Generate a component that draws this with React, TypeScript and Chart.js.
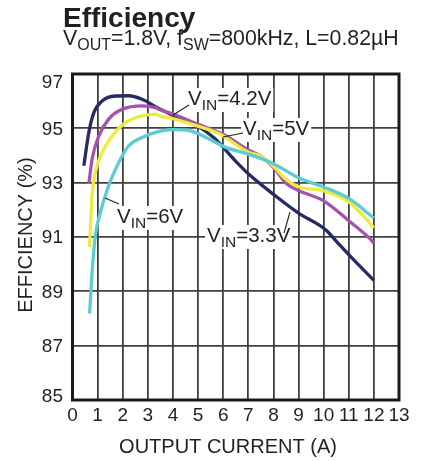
import { useEffect, useRef } from "react";
import { Chart, registerables } from "chart.js";

Chart.register(...registerables);

// ---- data ----
const xTickValues = [0, 1, 2, 3, 4, 5, 6, 7, 8, 9, 10, 11, 12, 13];
const yTickValues = [85, 87, 89, 91, 93, 95, 97];

const vin33X = [0.45, 0.65, 0.85, 1.18, 1.71, 2.24, 2.77, 3.3, 3.9, 4.96, 5.62, 6.55, 7.08, 8, 9, 9.73, 10.1, 10.5, 11, 12];
const vin33Y = [93.62, 94.85, 95.58, 96.01, 96.19, 96.2, 96.07, 95.8, 95.52, 95.09, 94.66, 93.74, 93.26, 92.57, 91.88, 91.49, 91.25, 90.85, 90.35, 89.4];

const vin42X = [0.65, 0.78, 1.05, 1.44, 1.97, 2.77, 3.3, 3.5, 4.03, 4.82, 6, 7, 7.5, 8, 8.54, 9, 10, 11, 11.85, 12];
const vin42Y = [92.95, 93.87, 94.72, 95.34, 95.7, 95.83, 95.76, 95.68, 95.52, 95.21, 94.78, 94.2, 93.98, 93.56, 92.95, 92.71, 92.33, 91.6, 90.93, 90.77];

const vin5X = [0.68, 0.78, 0.91, 1.18, 1.58, 2.11, 2.77, 3.3, 3.5, 4, 4.96, 5.88, 7, 7.47, 8, 8.4, 9, 10, 11, 11.5, 12];
const vin5Y = [90.63, 92.52, 93.38, 94.11, 94.72, 95.21, 95.46, 95.52, 95.45, 95.36, 95.09, 94.78, 94.12, 93.98, 93.6, 93.2, 92.85, 92.7, 92.29, 91.85, 91.34];

const vin6X = [0.68, 0.78, 0.91, 1.11, 1.44, 1.84, 2.24, 2.77, 3.3, 4, 4.6, 5.2, 6.1, 7, 8, 9, 10, 11, 12];
const vin6Y = [88.18, 89.71, 91.05, 91.91, 92.89, 93.74, 94.36, 94.66, 94.85, 94.95, 94.93, 94.72, 94.3, 94.05, 93.7, 93.18, 92.84, 92.42, 91.7];

const seriesNames = ["VIN=3.3V", "VIN=4.2V", "VIN=5V", "VIN=6V"];
const seriesColors = ["#262a66", "#a652ac", "#eeea3e", "#5ecbd4"];

const titleText = "Efficiency";
const xTitle = "OUTPUT CURRENT (A)";
const yTitle = "EFFICIENCY (%)";

const FONT = '"Liberation Sans", Arial, Helvetica, sans-serif';

type Part = [string, boolean];

const subtitleParts: Part[] = [
  ["V", false], ["OUT", true], ["=1.8V, f", false], ["SW", true], ["=800kHz, L=0.82µH", false],
];

const annotations: { parts: Part[]; x: number; y: number; line: number[] }[] = [
  { parts: [["V", false], ["IN", true], ["=4.2V", false]], x: 188, y: 105, line: [173, 115, 189, 105] },
  { parts: [["V", false], ["IN", true], ["=5V", false]], x: 243, y: 135, line: [223, 137, 243, 133] },
  { parts: [["V", false], ["IN", true], ["=6V", false]], x: 117, y: 223, line: [105, 198, 119, 204] },
  { parts: [["V", false], ["IN", true], ["=3.3V", false]], x: 207, y: 242, line: [290, 212, 284, 233] },
];

function partsWidth(ctx: CanvasRenderingContext2D, parts: Part[], main: number, sub: number) {
  let w = 0;
  for (const [t, s] of parts) {
    ctx.font = `${s ? sub : main}px ${FONT}`;
    w += ctx.measureText(t).width;
  }
  return w;
}

function drawParts(ctx: CanvasRenderingContext2D, parts: Part[], x: number, y: number, main: number, sub: number, off: number) {
  ctx.textAlign = "left";
  ctx.textBaseline = "alphabetic";
  for (const [t, s] of parts) {
    ctx.font = `${s ? sub : main}px ${FONT}`;
    ctx.fillText(t, x, s ? y + off : y);
    x += ctx.measureText(t).width;
  }
}

const ANN_MAIN = 20.5;
const ANN_SUB = 15.5;

const decorPlugin = {
  id: "decor",
  beforeDatasetsDraw(chart: any) {
    const { ctx, chartArea } = chart;
    ctx.save();
    ctx.fillStyle = "#ffffff";
    for (const a of annotations) {
      const w = partsWidth(ctx, a.parts, ANN_MAIN, ANN_SUB);
      ctx.fillRect(a.x - 2, a.y - 17, w + 4, 24);
    }
    ctx.strokeStyle = "#1a1a1a";
    ctx.lineWidth = 3;
    ctx.strokeRect(chartArea.left, chartArea.top, chartArea.right - chartArea.left, chartArea.bottom - chartArea.top);
    ctx.restore();
  },
  afterDatasetsDraw(chart: any) {
    const { ctx } = chart;
    ctx.save();
    ctx.strokeStyle = "#222";
    ctx.lineWidth = 1.1;
    for (const a of annotations) {
      ctx.beginPath();
      ctx.moveTo(a.line[0], a.line[1]);
      ctx.lineTo(a.line[2], a.line[3]);
      ctx.stroke();
    }
    ctx.fillStyle = "#231f20";
    for (const a of annotations) {
      drawParts(ctx, a.parts, a.x, a.y, ANN_MAIN, ANN_SUB, 5);
    }
    ctx.restore();
  },
  afterDraw(chart: any) {
    const { ctx, chartArea } = chart;
    const yScale = chart.scales.y;
    ctx.save();
    ctx.fillStyle = "#231f20";
    ctx.font = `bold 28px ${FONT}`;
    ctx.textAlign = "left";
    ctx.textBaseline = "alphabetic";
    ctx.fillText(titleText, 63, 27);
    drawParts(ctx, subtitleParts, 63, 45, 21.3, 16, 5);
    ctx.font = `19px ${FONT}`;
    ctx.textAlign = "right";
    ctx.textBaseline = "middle";
    for (const t of yScale.ticks) {
      let py = yScale.getPixelForValue(t.value);
      py = Math.max(chartArea.top + 8, Math.min(chartArea.bottom - 4, py));
      ctx.fillText(String(t.value), chartArea.left - 9.5, py + 1);
    }
    ctx.font = `20px ${FONT}`;
    ctx.textAlign = "center";
    ctx.textBaseline = "middle";
    ctx.fillText(xTitle, 228, 447);
    ctx.translate(25, 235);
    ctx.rotate(-Math.PI / 2);
    ctx.fillText(yTitle, 0, 1);
    ctx.restore();
  },
};

function toPoints(xs: number[], ys: number[]) {
  return xs.map((x, i) => ({ x, y: ys[i] }));
}

export default function App() {
  const ref = useRef<HTMLCanvasElement>(null);
  useEffect(() => {
    if (!ref.current) return;
    const seriesX = [vin33X, vin42X, vin5X, vin6X];
    const seriesY = [vin33Y, vin42Y, vin5Y, vin6Y];
    const chart = new Chart(ref.current, {
      type: "line",
      data: {
        datasets: seriesNames.map((name, i) => ({
          label: name,
          data: toPoints(seriesX[i], seriesY[i]),
          borderColor: seriesColors[i],
          backgroundColor: seriesColors[i],
          borderWidth: 3.3,
          pointRadius: 0,
          cubicInterpolationMode: "monotone" as const,
          fill: false,
          order: 4 - i,
        })),
      },
      options: {
        animation: false,
        responsive: false,
        maintainAspectRatio: false,
        events: [],
        layout: { padding: { top: 74, right: 23, bottom: 0, left: 0 } },
        plugins: { legend: { display: false }, tooltip: { enabled: false }, title: { display: false } },
        scales: {
          x: {
            type: "linear",
            min: 0,
            max: 13,
            afterBuildTicks: (s: any) => { s.ticks = xTickValues.map((v) => ({ value: v })); },
            afterFit: (s: any) => { s.height = 61; },
            ticks: { padding: 4, color: "#231f20", font: { family: FONT, size: 19 }, maxRotation: 0, autoSkip: false },
            grid: { color: "#404040", lineWidth: 1.8, drawTicks: false },
            border: { display: false },
          },
          y: {
            type: "linear",
            min: 85,
            max: 97,
            afterBuildTicks: (s: any) => { s.ticks = yTickValues.map((v) => ({ value: v })); },
            afterFit: (s: any) => { s.width = 72.5; },
            ticks: { display: false, padding: 9.5, font: { family: FONT, size: 19 } },
            grid: { color: "#404040", lineWidth: 1.8, drawTicks: false },
            border: { display: false },
          },
        },
      },
      plugins: [decorPlugin],
    });
    return () => chart.destroy();
  }, []);
  return (
    <div style={{ position: "absolute", left: 0, top: 0, width: 422, height: 461, background: "#fff" }}>
      <canvas ref={ref} width={422} height={461} />
    </div>
  );
}
